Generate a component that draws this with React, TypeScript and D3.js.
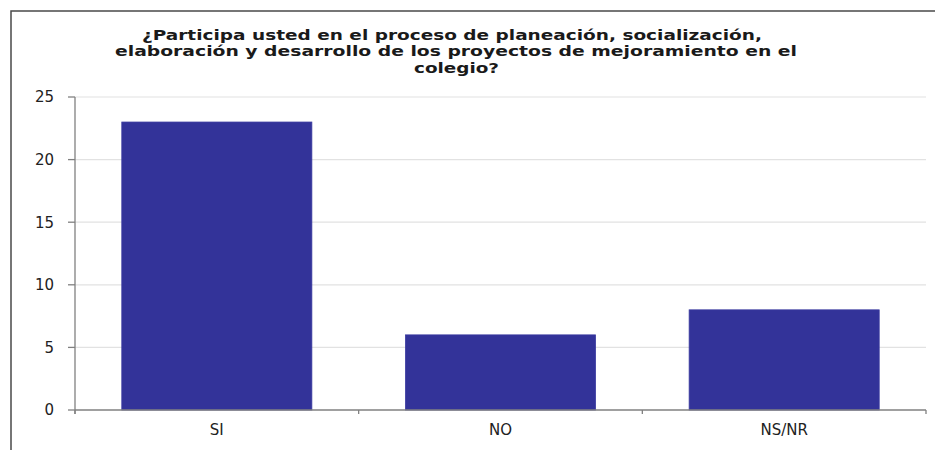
import React from "react";
import * as d3 from "d3";

const categories = ["SI", "NO", "NS/NR"];
const values = [23, 6, 8];
const yTicks = [0, 5, 10, 15, 20, 25];
const titleLines = [
  "¿Participa usted en el proceso de planeación, socialización,",
  "elaboración y desarrollo de los proyectos de mejoramiento en el",
  "colegio?",
];

export default function App() {
  const W = 935;
  const H = 450;
  const left = 75;
  const right = 926;
  const top = 97;
  const bottom = 410;

  const x = d3
    .scaleBand<string>()
    .domain(categories)
    .range([left, right])
    .paddingInner(0.33)
    .paddingOuter(0.165);
  const y = d3.scaleLinear().domain([0, 25]).range([bottom, top]);
  const step = x.step();
  const boundaries = d3.range(categories.length + 1).map((i) => left + i * step);

  const font = "'DejaVu Sans', Verdana, sans-serif";

  return (
    <svg
      width={W}
      height={H}
      style={{ position: "absolute", left: 0, top: 0, background: "#fff" }}
      fontFamily={font}
    >
      <rect x={0} y={0} width={W} height={H} fill="#fff" />
      {/* outer border */}
      <path d={`M11,${H + 2} L11,11 L${W + 2},11`} fill="none" stroke="#4a4a4a" strokeWidth={1.5} />

      {/* title */}
      <text x={142} y={39.5} fontSize={14} fontWeight="bold" fill="#1a1a1a" textLength={620} lengthAdjust="spacingAndGlyphs">
        {titleLines[0]}
      </text>
      <text x={115} y={56} fontSize={14} fontWeight="bold" fill="#1a1a1a" textLength={682} lengthAdjust="spacingAndGlyphs">
        {titleLines[1]}
      </text>
      <text x={414} y={72.5} fontSize={14} fontWeight="bold" fill="#1a1a1a" textLength={85} lengthAdjust="spacingAndGlyphs">
        {titleLines[2]}
      </text>

      {/* gridlines */}
      {yTicks
        .filter((t) => t !== 0)
        .map((t) => (
          <line key={"g" + t} x1={left} x2={right} y1={y(t)} y2={y(t)} stroke="#e2e2e2" strokeWidth={1.2} />
        ))}

      {/* bars */}
      {categories.map((c, i) => (
        <rect
          key={c}
          x={x(c)}
          y={y(values[i])}
          width={x.bandwidth()}
          height={y(0) - y(values[i])}
          fill="#333399"
          stroke="#3a3aa0"
          strokeWidth={0.8}
        />
      ))}

      {/* y axis */}
      <line x1={left} x2={left} y1={top} y2={bottom + 4} stroke="#808080" strokeWidth={1.3} />
      {yTicks.map((t) => (
        <g key={"t" + t}>
          <line x1={left - 7} x2={left} y1={y(t)} y2={y(t)} stroke="#808080" strokeWidth={1.3} />
          <text x={54} y={y(t)} dy="0.36em" fontSize={15} textAnchor="end" fill="#222">
            {t}
          </text>
        </g>
      ))}

      {/* x axis */}
      <line x1={left} x2={right} y1={bottom} y2={bottom} stroke="#808080" strokeWidth={1.3} />
      {boundaries.map((b, i) => (
        <line key={"xb" + i} x1={b} x2={b} y1={bottom} y2={bottom + 4} stroke="#808080" strokeWidth={1.3} />
      ))}
      {categories.map((c) => (
        <text key={"l" + c} x={(x(c) as number) + x.bandwidth() / 2} y={435} fontSize={15} textAnchor="middle" fill="#222">
          {c}
        </text>
      ))}
    </svg>
  );
}
